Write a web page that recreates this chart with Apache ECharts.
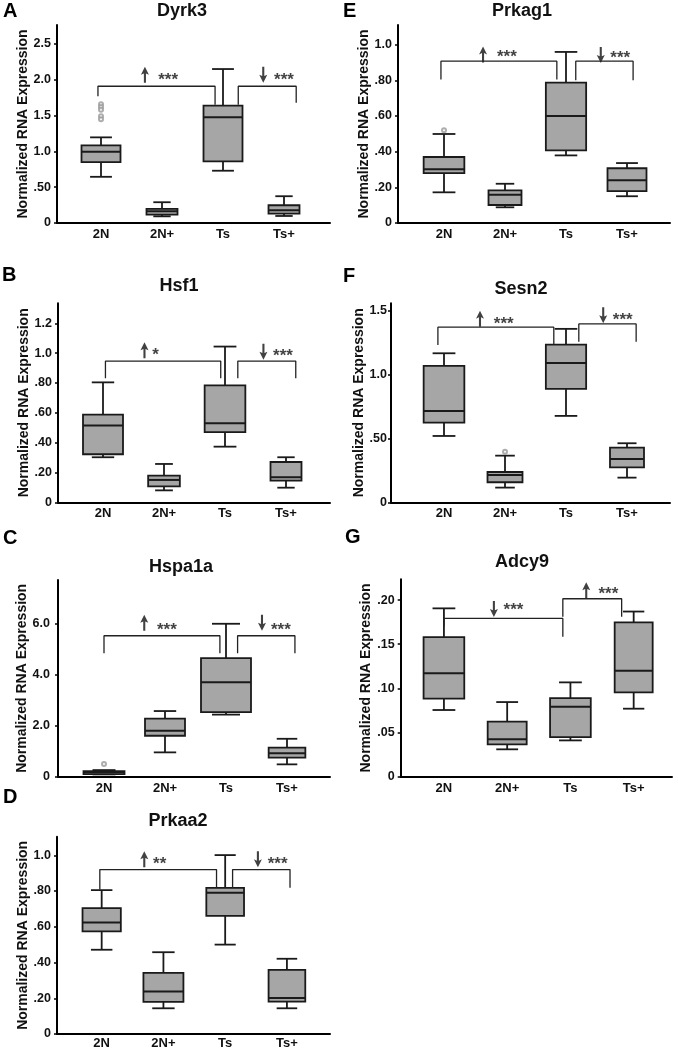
<!DOCTYPE html>
<html>
<head>
<meta charset="utf-8">
<script src="https://cdn.jsdelivr.net/npm/echarts@6/dist/echarts.min.js"></script>
<style>html,body{margin:0;padding:0;background:#fff}#c{width:678px;height:1050px}</style>
</head>
<body>
<div id="c"></div>
<script>
// ---------- data ----------
const categories = ['2N', '2N+', 'Ts', 'Ts+'];
// each row: [low whisker, Q1, median, Q3, high whisker]
const dyrk3 = [[0.645,0.85,0.995,1.084,1.196],[0.093,0.117,0.164,0.196,0.29],[0.73,0.86,1.477,1.64,2.15],[0.098,0.131,0.178,0.248,0.374]];
const prkag1 = [[0.172,0.28,0.301,0.37,0.499],[0.088,0.101,0.159,0.183,0.22],[0.379,0.407,0.6,0.787,0.959],[0.15,0.179,0.239,0.307,0.336]];
const hsf1 = [[0.302,0.322,0.514,0.588,0.804],[0.08,0.107,0.15,0.179,0.257],[0.373,0.471,0.53,0.784,1.044],[0.098,0.145,0.168,0.27,0.302]];
const sesn2 = [[0.519,0.624,0.715,1.067,1.166],[0.115,0.157,0.214,0.237,0.365],[0.676,0.887,1.09,1.234,1.357],[0.193,0.274,0.339,0.428,0.462]];
const hspa1a = [[0.09,0.1,0.17,0.22,0.26],[0.956,1.61,1.81,2.28,2.58],[2.44,2.54,3.71,4.66,6.01],[0.485,0.747,0.917,1.14,1.49]];
const adcy9 = [[0.0755,0.0883,0.117,0.158,0.1906],[0.031,0.0366,0.0423,0.0623,0.0845],[0.0411,0.0449,0.0792,0.089,0.1068],[0.077,0.0955,0.12,0.1747,0.187]];
const prkaa2 = [[0.465,0.569,0.619,0.70,0.802],[0.134,0.17,0.229,0.334,0.451],[0.494,0.657,0.787,0.815,1.0],[0.134,0.172,0.192,0.351,0.414]];

// outliers: [category index, value]
const dyrk3Outliers = [[0,1.66],[0,1.62],[0,1.58],[0,1.49],[0,1.45]];
const prkag1Outliers = [[0,0.52]];
const hsf1Outliers = [];
const sesn2Outliers = [[1,0.396]];
const hspa1aOutliers = [[0,0.5]];
const adcy9Outliers = [];
const prkaa2Outliers = [];

// y ticks and labels
const dyrk3Ticks = [0,0.5,1,1.5,2,2.5];      const dyrk3TickLabels = ['0','.50','1.0','1.5','2.0','2.5'];
const prkag1Ticks = [0,0.2,0.4,0.6,0.8,1.0]; const prkag1TickLabels = ['0','.20','.40','.60','.80','1.0'];
const hsf1Ticks = [0,0.2,0.4,0.6,0.8,1.0,1.2]; const hsf1TickLabels = ['0','.20','.40','.60','.80','1.0','1.2'];
const sesn2Ticks = [0,0.5,1.0,1.5];          const sesn2TickLabels = ['0','.50','1.0','1.5'];
const hspa1aTicks = [0,2,4,6];               const hspa1aTickLabels = ['0','2.0','4.0','6.0'];
const adcy9Ticks = [0,0.05,0.10,0.15,0.20];  const adcy9TickLabels = ['0','.05','.10','.15','.20'];
const prkaa2Ticks = [0,0.2,0.4,0.6,0.8,1.0]; const prkaa2TickLabels = ['0','.20','.40','.60','.80','1.0'];

// significance brackets: [x start, x end (category units), bar value, left drop end, right drop end]
const dyrk3Brackets = [[-0.05,1.87,1.91,1.77,1.65],[2.25,3.2,1.91,1.65,1.68]];
const prkag1Brackets = [[-0.05,1.85,0.907,0.804,0.804],[2.16,3.1,0.907,0.80,0.80]];
const hsf1Brackets = [[0.04,1.93,0.947,0.831,0.831],[2.21,3.16,0.947,0.831,0.831]];
const sesn2Brackets = [[-0.1,1.8,1.37,1.23,1.23],[2.21,3.15,1.396,1.257,1.257]];
const hspa1aBrackets = [[0.0,1.9,5.54,4.85,4.85],[2.19,3.13,5.54,4.85,4.85]];
const adcy9Brackets = [[0.0,1.88,0.1792,0.17,0.1585],[1.88,2.81,0.2015,0.181,0.181]];
const prkaa2Brackets = [[-0.03,1.86,0.918,0.805,0.815],[2.12,3.05,0.918,0.815,0.815]];

// marks: [arrow x, arrow y, direction, text x, text y, text]
const dyrk3Marks = [[0.72,2.07,'up',1.1,2.05,'***'],[2.66,2.07,'down',3.0,2.05,'***']];
const prkag1Marks = [[0.64,0.945,'up',1.03,0.95,'***'],[2.57,0.942,'down',2.89,0.944,'***']];
const hsf1Marks = [[0.68,1.019,'up',0.86,1.01,'*'],[2.63,1.01,'down',2.95,1.003,'***']];
const sesn2Marks = [[0.59,1.437,'up',0.98,1.427,'***'],[2.61,1.464,'down',2.93,1.458,'***']];
const hspa1aMarks = [[0.66,6.05,'up',1.03,5.9,'***'],[2.59,6.05,'down',2.9,5.9,'***']];
const adcy9Marks = [[0.79,0.190,'down',1.1,0.193,'***'],[2.25,0.211,'up',2.6,0.2106,'***']];
const prkaa2Marks = [[0.69,0.976,'up',0.94,0.968,'**'],[2.53,0.976,'down',2.85,0.968,'***']];

// ---------- layout ----------
const FONT = '"Liberation Sans", Arial, sans-serif';
const panels = [
  {letter:'A', title:'Dyrk3', stats:dyrk3, out:dyrk3Outliers, ticks:dyrk3Ticks, tl:dyrk3TickLabels, br:dyrk3Brackets, mk:dyrk3Marks,
   max:2.765, frame:[57,25,273,198], data:[70.5,244], boxW:[39,31,39,31], nameGap:26, lm:6, letterPos:[3,11], titlePos:[182,11.5]},
  {letter:'E', title:'Prkag1', stats:prkag1, out:prkag1Outliers, ticks:prkag1Ticks, tl:prkag1TickLabels, br:prkag1Brackets, mk:prkag1Marks,
   max:1.11, frame:[398,25,272,198], data:[413.5,244], boxW:[40.7,33,40.3,39], nameGap:27, lm:6, letterPos:[343,11], titlePos:[522,11.5]},
  {letter:'B', title:'Hsf1', stats:hsf1, out:hsf1Outliers, ticks:hsf1Ticks, tl:hsf1TickLabels, br:hsf1Brackets, mk:hsf1Marks,
   max:1.334, frame:[58,303.3,272,199], data:[72.5,244], boxW:[40,31.7,40.7,31], nameGap:26, lm:6, letterPos:[2,275], titlePos:[179,286]},
  {letter:'F', title:'Sesn2', stats:sesn2, out:sesn2Outliers, ticks:sesn2Ticks, tl:sesn2TickLabels, br:sesn2Brackets, mk:sesn2Marks,
   max:1.557, frame:[391,303.3,279,199], data:[413.5,244], boxW:[40.7,35,40.3,34], nameGap:17, lm:4, letterPos:[343,276], titlePos:[521,289]},
  {letter:'C', title:'Hspa1a', stats:hspa1a, out:hspa1aOutliers, ticks:hspa1aTicks, tl:hspa1aTickLabels, br:hspa1aBrackets, mk:hspa1aMarks,
   max:7.73, frame:[58,580,272,196.7], data:[73.5,244], boxW:[41,40,50,36.7], nameGap:24, lm:8, letterPos:[3,538], titlePos:[181,567.5]},
  {letter:'G', title:'Adcy9', stats:adcy9, out:adcy9Outliers, ticks:adcy9Ticks, tl:adcy9TickLabels, br:adcy9Brackets, mk:adcy9Marks,
   max:0.2235, frame:[400.7,579.3,271.3,197.4], data:[412.3,253], boxW:[40.7,39,40.7,38], nameGap:25, lm:6, letterPos:[345,537], titlePos:[522,562.5]},
  {letter:'D', title:'Prkaa2', stats:prkaa2, out:prkaa2Outliers, ticks:prkaa2Ticks, tl:prkaa2TickLabels, br:prkaa2Brackets, mk:prkaa2Marks,
   max:1.104, frame:[57,836.7,273,197.3], data:[70.8,247], boxW:[38.3,40,37.7,36.7], nameGap:26, lm:6, letterPos:[3,797], titlePos:[178,821.5]}
];

const ARROW = 'path://M5,0 L10,11 L6.3,9.2 L6.3,22 L3.7,22 L3.7,9.2 L0,11 Z';
const BOX_FILL = '#a6a6a6', INK = '#1a1a1a';

const grid = [], xAxis = [], yAxis = [], series = [], graphics = [];

panels.forEach((p, i) => {
  const [fl, ft, fw, fh] = p.frame;
  grid.push({left: fl, top: ft, width: fw, height: fh});           // frame grid 2i
  grid.push({left: p.data[0], top: ft, width: p.data[1], height: fh}); // data grid 2i+1

  // frame axes
  xAxis.push({gridIndex: 2*i, type: 'value', min: 0, max: 1,
    axisLine: {show: true, lineStyle: {color: '#000', width: 2}},
    axisTick: {show: false}, axisLabel: {show: false}, splitLine: {show: false}});
  yAxis.push({gridIndex: 2*i, type: 'value', min: 0, max: p.max,
    name: 'Normalized RNA Expression', nameLocation: 'middle', nameGap: p.nameGap,
    nameTextStyle: {fontFamily: FONT, fontWeight: 'bold', fontSize: 14, color: '#111'},
    axisLine: {show: true, lineStyle: {color: '#000', width: 2}},
    axisTick: {show: true, length: 3, customValues: p.ticks, lineStyle: {color: '#000', width: 1.5}},
    axisLabel: {customValues: p.ticks, margin: p.lm, fontFamily: FONT, fontWeight: 'bold', fontSize: 12.5, color: '#111',
      formatter: (v) => { const k = p.ticks.findIndex(t => Math.abs(t - v) < 1e-9); return k >= 0 ? p.tl[k] : ''; }},
    splitLine: {show: false}});

  // data axes
  const catX = xAxis.length;
  xAxis.push({gridIndex: 2*i+1, type: 'category', data: categories, boundaryGap: true, position: 'bottom',
    axisLine: {show: false}, axisTick: {show: false},
    axisLabel: {margin: 5, fontFamily: FONT, fontWeight: 'bold', fontSize: 13, color: '#111'}});
  const valX = xAxis.length;
  xAxis.push({gridIndex: 2*i+1, type: 'value', min: -0.5, max: 3.5, show: false});
  const dY = yAxis.length;
  yAxis.push({gridIndex: 2*i+1, type: 'value', min: 0, max: p.max, show: false});

  // boxes
  const boxData = p.stats.map((s, k) => [k, ...s]);
  series.push({
    type: 'custom', xAxisIndex: catX, yAxisIndex: dY, data: boxData,
    encode: {x: 0, y: [1,2,3,4,5]},
    renderItem: (params, api) => {
      const k = api.value(0);
      const lo = api.coord([k, api.value(1)]);
      const q1 = api.coord([k, api.value(2)]);
      const md = api.coord([k, api.value(3)]);
      const q3 = api.coord([k, api.value(4)]);
      const hi = api.coord([k, api.value(5)]);
      const cx = lo[0];
      const bw = p.boxW[k], half = bw / 2, cap = bw * 0.28;
      const ls = {stroke: INK, lineWidth: 1.8};
      return {type: 'group', children: [
        {type: 'line', shape: {x1: cx, y1: hi[1], x2: cx, y2: q3[1]}, style: ls},
        {type: 'line', shape: {x1: cx, y1: lo[1], x2: cx, y2: q1[1]}, style: ls},
        {type: 'line', shape: {x1: cx - cap, y1: hi[1], x2: cx + cap, y2: hi[1]}, style: ls},
        {type: 'line', shape: {x1: cx - cap, y1: lo[1], x2: cx + cap, y2: lo[1]}, style: ls},
        {type: 'rect', shape: {x: cx - half, y: q3[1], width: bw, height: q1[1] - q3[1]},
          style: {fill: BOX_FILL, stroke: INK, lineWidth: 1.8}},
        {type: 'line', shape: {x1: cx - half, y1: md[1], x2: cx + half, y2: md[1]}, style: {stroke: INK, lineWidth: 2}}
      ]};
    }
  });

  // outliers
  if (p.out.length) {
    series.push({type: 'scatter', xAxisIndex: catX, yAxisIndex: dY, data: p.out,
      symbol: 'emptyCircle', symbolSize: 4, itemStyle: {color: '#999', borderColor: '#999', borderWidth: 1}});
  }

  // brackets
  p.br.forEach(b => {
    series.push({type: 'line', xAxisIndex: valX, yAxisIndex: dY, showSymbol: false, symbol: 'none',
      lineStyle: {color: '#222', width: 1.3}, silent: true,
      data: [[b[0], b[3]], [b[0], b[2]], [b[1], b[2]], [b[1], b[4]]]});
  });

  // arrows
  series.push({type: 'scatter', xAxisIndex: valX, yAxisIndex: dY, symbol: ARROW, symbolSize: [8, 16],
    itemStyle: {color: '#111'}, silent: true,
    data: p.mk.map(m => ({value: [m[0], m[1]], symbolRotate: m[2] === 'up' ? 0 : 180}))});
  // stars
  series.push({type: 'scatter', xAxisIndex: valX, yAxisIndex: dY, symbolSize: 0, silent: true,
    label: {show: true, position: 'inside', offset: [0, 4], formatter: (d) => d.data.t,
      fontFamily: FONT, fontWeight: 'bold', fontSize: 17, color: '#111'},
    data: p.mk.map(m => ({value: [m[3], m[4]], t: m[5]}))});

  graphics.push({type: 'text', x: p.letterPos[0], y: p.letterPos[1],
    style: {text: p.letter, font: 'bold 20px ' + FONT, fill: '#000', align: 'left', verticalAlign: 'middle', textAlign: 'left', textVerticalAlign: 'middle'}});
  graphics.push({type: 'text', x: p.titlePos[0], y: p.titlePos[1],
    style: {text: p.title, font: 'bold 18px ' + FONT, fill: '#111', align: 'center', verticalAlign: 'middle', textAlign: 'center', textVerticalAlign: 'middle'}});
});

const chart = echarts.init(document.getElementById('c'), null, {renderer: 'canvas'});
chart.setOption({
  backgroundColor: '#fff',
  animation: false,
  grid, xAxis, yAxis, series,
  graphic: graphics
});
</script>
</body>
</html>
